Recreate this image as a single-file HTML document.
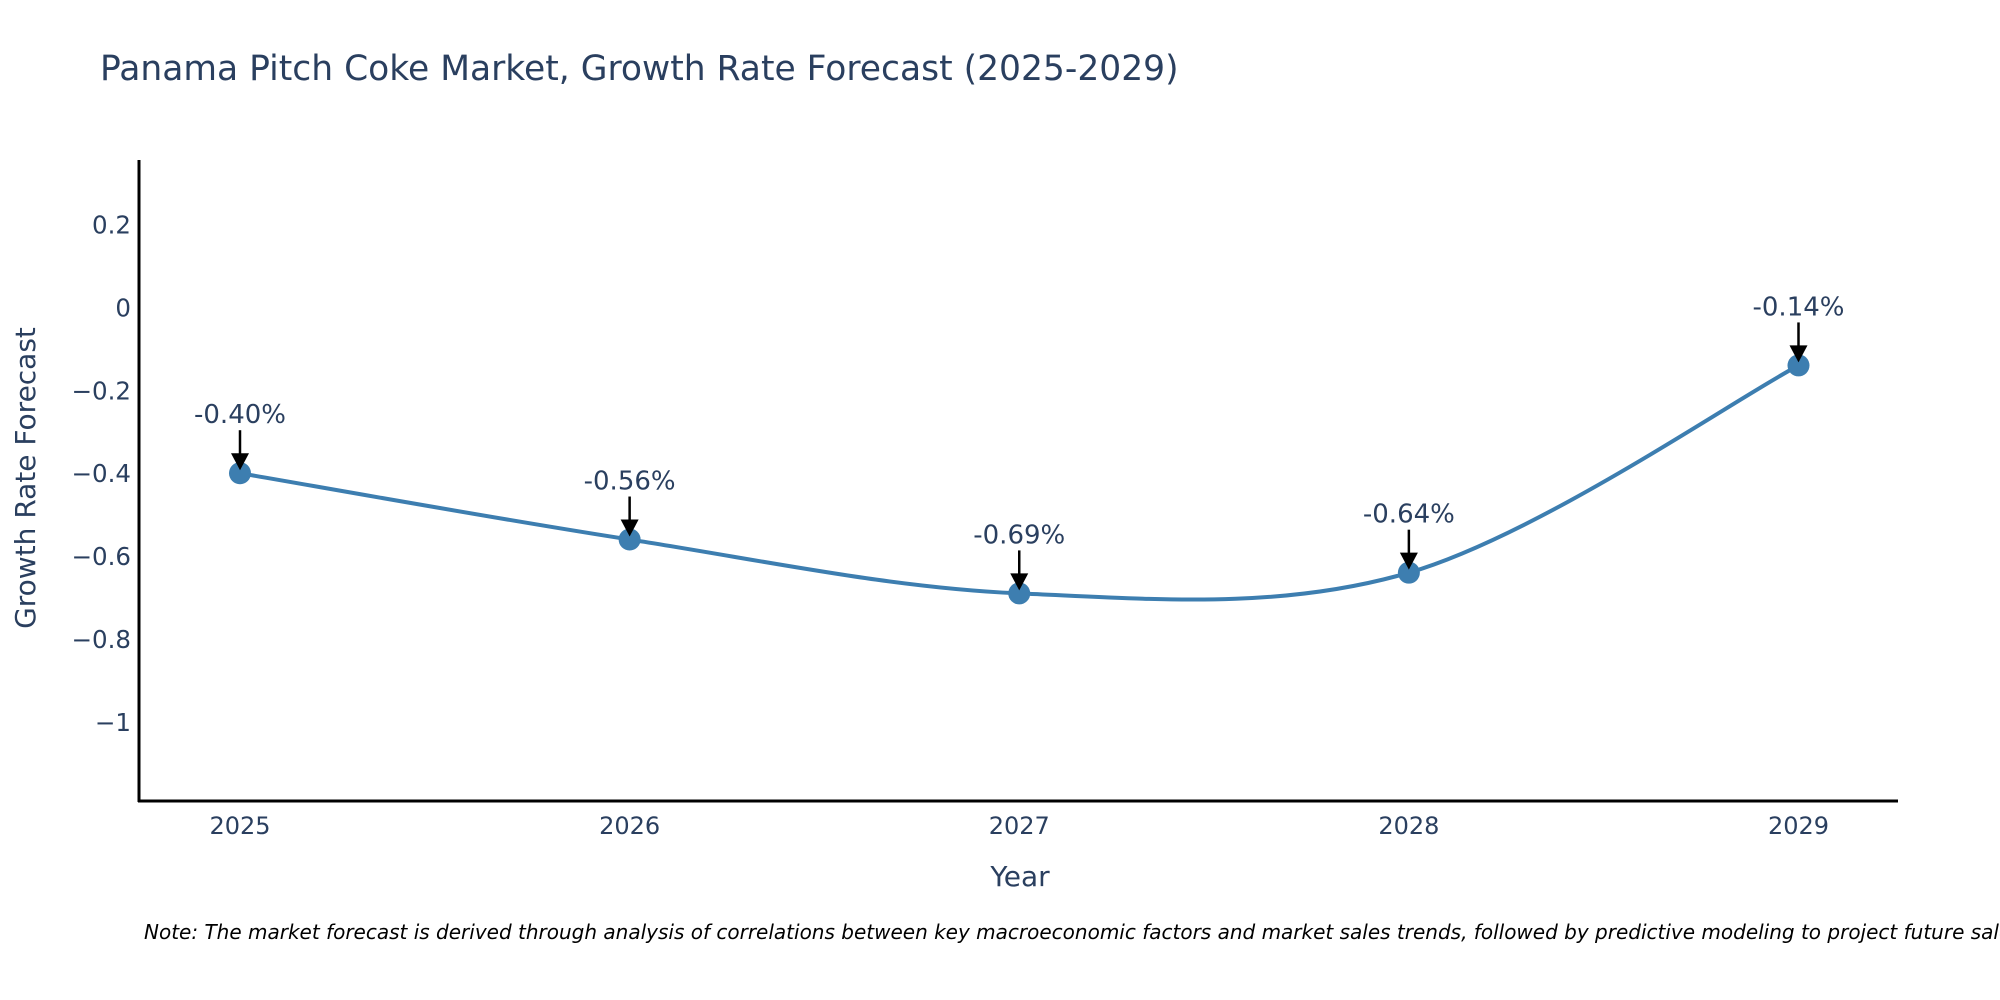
<!DOCTYPE html>
<html><head><meta charset="utf-8"><style>
html,body{margin:0;padding:0;background:#fff;}
svg{display:block;font-family:"DejaVu Sans","Liberation Sans",sans-serif;}
</style></head><body>
<svg id="chart" width="2000" height="1000">
<text x="100" y="80" font-size="34.5" fill="#2a3f5f">Panama Pitch Coke Market, Growth Rate Forecast (2025-2029)</text>
<g id="yticks"></g>
<g id="xticks"></g>
<line x1="139" y1="160" x2="139" y2="802" stroke="#000" stroke-width="3"/>
<line x1="138" y1="801" x2="1898" y2="801" stroke="#000" stroke-width="3"/>
<text transform="translate(35,478) rotate(-90)" text-anchor="middle" font-size="28" fill="#2a3f5f">Growth Rate Forecast</text>
<text x="1020" y="886" text-anchor="middle" font-size="28" fill="#2a3f5f">Year</text>
<g id="series"></g>
<text x="144" y="939" font-size="20" font-style="italic" fill="#000">Note: The market forecast is derived through analysis of correlations between key macroeconomic factors and market sales trends, followed by predictive modeling to project future sales.</text>
</svg>
<script>
const years = [2025, 2026, 2027, 2028, 2029];
const growth = [-0.40, -0.56, -0.69, -0.64, -0.14];
const labels = ["-0.40%", "-0.56%", "-0.69%", "-0.64%", "-0.14%"];
const yTickVals = [0.2, 0, -0.2, -0.4, -0.6, -0.8, -1];
const yTickText = ["0.2", "0", "\u22120.2", "\u22120.4", "\u22120.6", "\u22120.8", "\u22121"];

const NS = "http://www.w3.org/2000/svg";
function xs(v){ return 240 + (v - 2025) * (1798.5 - 240) / 4; }
function ys(v){ return 307.4 - v * 414.5; }
function mk(tag, attrs, parent){ const e = document.createElementNS(NS, tag); for (const k in attrs) e.setAttribute(k, attrs[k]); parent.appendChild(e); return e; }

const yg = document.getElementById('yticks');
yTickVals.forEach((v, i) => {
  const t = mk('text', {x: 131, y: ys(v) + 9, 'text-anchor': 'end', 'font-size': 24.5, fill: '#2a3f5f'}, yg);
  
  
  t.textContent = yTickText[i];
});
const xg = document.getElementById('xticks');
years.forEach(y => {
  const t = mk('text', {x: xs(y), y: 834, 'text-anchor': 'middle', 'font-size': 24, fill: '#2a3f5f'}, xg);
  
  
  t.textContent = String(y);
});

const pts = years.map((y, i) => [xs(y), ys(growth[i])]);
let d = `M${pts[0][0]},${pts[0][1]}`;
const k = 0.5 / 3 * 2;
for (let i = 0; i < pts.length - 1; i++) {
  const p0 = pts[Math.max(0, i - 1)], p1 = pts[i], p2 = pts[i + 1], p3 = pts[Math.min(pts.length - 1, i + 2)];
  const c1 = [p1[0] + (p2[0] - p0[0]) * k / 2, p1[1] + (p2[1] - p0[1]) * k / 2];
  const c2 = [p2[0] - (p3[0] - p1[0]) * k / 2, p2[1] - (p3[1] - p1[1]) * k / 2];
  d += ` C${c1[0]},${c1[1]} ${c2[0]},${c2[1]} ${p2[0]},${p2[1]}`;
}
const sg = document.getElementById('series');
const line = mk('path', {d: d, fill: 'none', stroke: '#3d7eb0', 'stroke-width': 4}, sg);



pts.forEach((p, i) => {
  const c = mk('circle', {cx: p[0], cy: p[1], r: 11, fill: '#3d7eb0'}, sg);
  
  
  const a = mk('line', {x1: p[0], y1: p[1] - 43, x2: p[0], y2: p[1] - 14, stroke: '#000', 'stroke-width': 2.5}, sg);
  
  
  const h = mk('polygon', {points: `${p[0]-9},${p[1]-20} ${p[0]+9},${p[1]-20} ${p[0]},${p[1]-3}`, fill: '#000'}, sg);
  
  
  const t = mk('text', {x: p[0], y: p[1] - 50, 'text-anchor': 'middle', 'font-size': 26, fill: '#2a3f5f'}, sg);
  
  
  t.textContent = labels[i];
});
</script>
</body></html>
